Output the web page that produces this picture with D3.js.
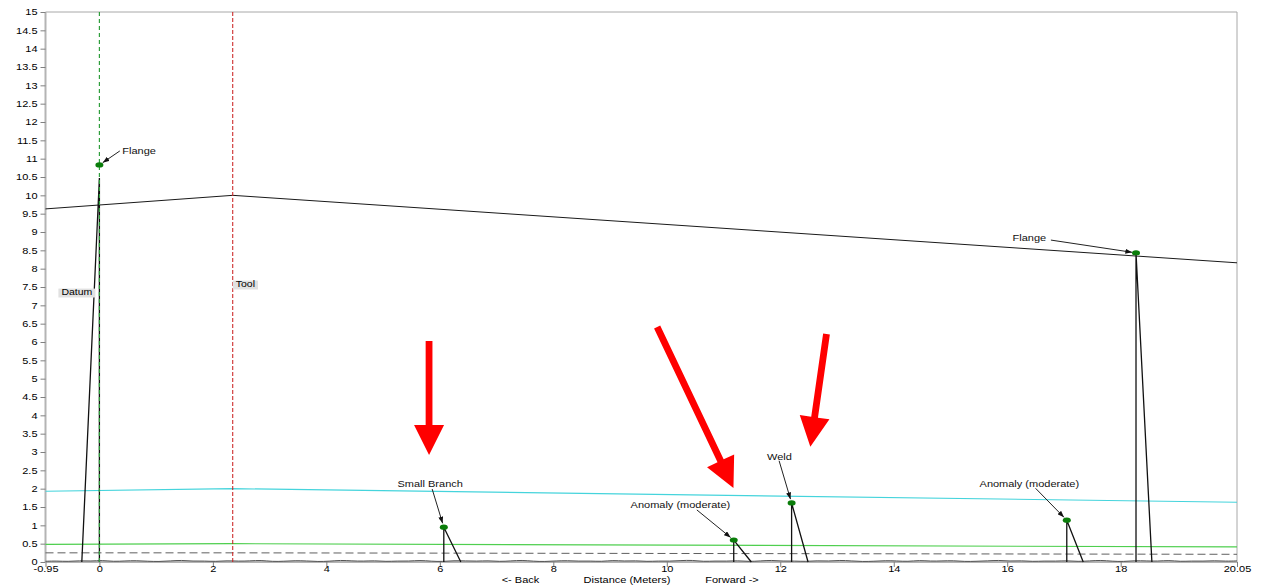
<!DOCTYPE html>
<html>
<head>
<meta charset="utf-8">
<script src="https://cdn.jsdelivr.net/npm/d3@7"></script>
<style>
  html, body { margin: 0; padding: 0; background: #ffffff; }
  svg { display: block; font-family: "Liberation Sans", Arial, sans-serif; }
</style>
</head>
<body>
<svg id="chart" width="1262" height="586"></svg>
<script>
// ---- Axis ticks ----
const xTickValues = [-0.95, 0, 2, 4, 6, 8, 10, 12, 14, 16, 18, 20.05];
const xTickLabels = ["-0.95", "0", "2", "4", "6", "8", "10", "12", "14", "16", "18", "20.05"];
const yTickValues = [0, 0.5, 1, 1.5, 2, 2.5, 3, 3.5, 4, 4.5, 5, 5.5, 6, 6.5, 7, 7.5,
                     8, 8.5, 9, 9.5, 10, 10.5, 11, 11.5, 12, 12.5, 13, 13.5, 14, 14.5, 15];

// ---- Threshold curves (breakpoints in metres) ----
const curveX      = [-0.95, 2.35, 20.05];
const dacCurve    = [9.63, 10.0, 8.16];
const callCurve   = [1.93, 2.0, 1.63];
const minorCurve  = [0.48, 0.5, 0.41];
const noiseFloor  = [0.25, 0.25, 0.21];

// ---- Reference markers ----
const datumPos = 0;
const toolPos = 2.35;

// ---- Detected features ----
const featureNames = ["Flange", "Small Branch", "Anomaly (moderate)", "Weld", "Anomaly (moderate)", "Flange"];
const featurePos   = [0, 6.07, 11.18, 12.2, 17.05, 18.27];
const featureAmp   = [10.83, 0.95, 0.6, 1.61, 1.14, 8.43];
const echoPeak     = [10.47, 0.95, 0.6, 1.61, 1.14, 8.43];
const echoFoot     = [-0.31, 6.37, 11.49, 12.49, 17.34, 18.55];

// label centre / baseline and leader start, in metres and signal units
const labelX  = [0.70, 5.83, 10.24, 11.985, 16.39, 16.39];
const labelY  = [11.13, 2.05, 1.47, 2.78, 2.05, 8.75];
const leaderX = [0.36, 5.865, 10.53, 11.98, 16.50, 16.77];
const leaderY = [11.21, 1.99, 1.42, 2.76, 2.01, 8.78];

// ---- Highlight arrows (tail -> tip) ----
const highlightTailX = [5.81, 9.83, 12.815];
const highlightTailY = [6.03, 6.41, 6.22];
const highlightTipX  = [5.81, 11.175, 12.53];
const highlightTipY  = [2.92, 2.02, 3.14];

// ---- Baseline noise of the trace ----
const noiseValues = [0.02,0.03,0.01,0.04,0.02,0.05,0.01,0.03,0.04,0.02,0.01,0.03,0.05,0.02,0.03,
  0.01,0.04,0.02,0.03,0.05,0.01,0.02,0.04,0.03,0.01,0.02,0.05,0.03,0.02,0.04,
  0.01,0.03,0.02,0.05,0.02,0.01,0.04,0.03,0.02,0.04,0.01,0.03,0.05,0.02,0.01,
  0.03,0.04,0.02,0.03,0.01,0.05,0.02,0.04,0.01,0.03,0.02,0.04,0.05,0.01,0.03,
  0.02,0.04,0.01,0.03,0.05,0.02,0.03,0.01,0.04,0.02,0.05,0.03,0.01,0.02,0.04,
  0.03,0.01,0.05,0.02,0.03,0.04,0.01,0.02,0.03,0.05,0.02,0.04,0.01,0.03,0.02,
  0.04,0.01,0.03,0.05,0.02,0.01,0.04,0.03,0.02,0.05,0.01,0.03,0.02,0.04,0.02,0.03];

// ================= drawing =================
const svg = d3.select("#chart");
const x = d3.scaleLinear().domain([-0.95, 20.05]).range([45.5, 1237]);
const y = d3.scaleLinear().domain([0, 15]).range([562, 12]);
const fontSize = 11;
const squash = 0.8;   // the instrument font is short and wide

// squeeze a text element vertically about its own anchor point
function squish(sel) {
  sel.each(function () {
    const t = d3.select(this);
    const px = +t.attr("x") || 0, py = +t.attr("y") || 0;
    t.attr("transform", `translate(${px},${py}) scale(1,${squash}) translate(${-px},${-py})`);
  });
  return sel;
}

// frame
svg.append("line").attr("x1", x(-0.95)).attr("x2", x(20.05)).attr("y1", y(15)).attr("y2", y(15))
  .attr("stroke", "#a8a8a8").attr("stroke-width", 1);
svg.append("line").attr("x1", x(20.05)).attr("x2", x(20.05)).attr("y1", y(15)).attr("y2", y(0))
  .attr("stroke", "#a8a8a8").attr("stroke-width", 1);

// axes
const yAxis = d3.axisLeft(y).tickValues(yTickValues).tickSize(5).tickPadding(3)
  .tickFormat(d => String(d));
const gy = svg.append("g").attr("transform", `translate(${x(-0.95)},0)`).call(yAxis);
const xAxis = d3.axisBottom(x).tickValues(xTickValues).tickSize(5).tickPadding(2)
  .tickFormat((d, i) => xTickLabels[i]);
const gx = svg.append("g").attr("transform", `translate(0,${y(0)})`).call(xAxis);
[gx, gy].forEach(g => {
  g.select(".domain").attr("stroke", "#b4b4b4").attr("stroke-width", 2);
  g.selectAll(".tick line").attr("stroke", "#808080");
  g.selectAll(".tick text").attr("font-size", fontSize).attr("fill", "#000")
    .attr("font-family", "Liberation Sans, Arial, sans-serif");
});
gy.selectAll(".tick text").attr("transform", `scale(1,${squash})`);
gx.selectAll(".tick text").attr("y", 5).attr("transform", `scale(1,${squash})`);
gy.select(".domain").attr("d", `M0,${y(15)}V${y(0)}`);
gx.select(".domain").attr("d", `M${x(-0.95)},0H${x(20.05)}`);

// axis captions
const captions = [["<- Back", 520.5], ["Distance (Meters)", 627], ["Forward ->", 732]];
squish(svg.selectAll("text.caption").data(captions).enter().append("text")
  .attr("class", "caption").attr("x", d => d[1]).attr("y", 583)
  .attr("text-anchor", "middle").attr("font-size", fontSize).text(d => d[0]));

// threshold curves
const curveLine = vals => d3.line().x((d, i) => x(curveX[i])).y(d => y(d))(vals);
svg.append("path").attr("d", curveLine(noiseFloor)).attr("fill", "none")
  .attr("stroke", "#606060").attr("stroke-width", 1).attr("stroke-dasharray", "8,4");
svg.append("path").attr("d", curveLine(minorCurve)).attr("fill", "none")
  .attr("stroke", "#4fcf4f").attr("stroke-width", 1.2);
svg.append("path").attr("d", curveLine(callCurve)).attr("fill", "none")
  .attr("stroke", "#45d4dc").attr("stroke-width", 1.2);
svg.append("path").attr("d", curveLine(dacCurve)).attr("fill", "none")
  .attr("stroke", "#1a1a1a").attr("stroke-width", 1);

// baseline noise
const noiseStep = (20.05 - (-0.95)) / (noiseValues.length - 1);
svg.append("path")
  .attr("d", d3.line().x((d, i) => x(-0.95 + i * noiseStep)).y(d => y(d)).curve(d3.curveBasis)(noiseValues))
  .attr("fill", "none").attr("stroke", "#555").attr("stroke-width", 1);

// echo spikes: vertical edge at the feature, sloped edge to the foot
featurePos.forEach((p, i) => {
  const pts = [[p, 0], [p, echoPeak[i]], [echoFoot[i], 0]];
  svg.append("path").attr("d", d3.line().x(d => x(d[0])).y(d => y(d[1]))(pts))
    .attr("fill", "none").attr("stroke", "#111").attr("stroke-width", 1.3);
});

// datum and tool markers
svg.append("line").attr("x1", x(datumPos)).attr("x2", x(datumPos)).attr("y1", y(15)).attr("y2", y(0))
  .attr("stroke", "#2f9e3c").attr("stroke-width", 1.2).attr("stroke-dasharray", "4,3");
svg.append("line").attr("x1", x(toolPos)).attr("x2", x(toolPos)).attr("y1", y(15)).attr("y2", y(0))
  .attr("stroke", "#c81818").attr("stroke-width", 1).attr("stroke-dasharray", "4,2");

function tag(text, px, baseY) {
  const t = svg.append("text").attr("x", px).attr("y", baseY).attr("font-size", 10.5).text(text);
  squish(t);
  const bb = t.node().getBBox();
  const h = (bb.height - 1) * squash;
  svg.insert("rect", () => t.node()).attr("x", bb.x - 3).attr("y", baseY - h + 2.5)
    .attr("width", bb.width + 6).attr("height", h).attr("fill", "#e1e1e1");
}
tag("Datum", x(datumPos) - 38, 295);
tag("Tool", x(toolPos) + 3, 287);

// feature labels with leaders
svg.append("defs").append("marker").attr("id", "lead").attr("viewBox", "0 -3 8 6")
  .attr("refX", 8).attr("refY", 0).attr("markerWidth", 7).attr("markerHeight", 5)
  .attr("markerUnits", "userSpaceOnUse").attr("orient", "auto")
  .append("path").attr("d", "M0,-3L8,0L0,3Z").attr("fill", "#111");

featureNames.forEach((name, i) => {
  squish(svg.append("text").attr("x", x(labelX[i])).attr("y", y(labelY[i]))
    .attr("text-anchor", "middle").attr("font-size", fontSize).attr("fill", "#111").text(name));
  const x0 = x(leaderX[i]), y0 = y(leaderY[i]);
  const x1 = x(featurePos[i]), y1 = y(featureAmp[i]);
  const len = Math.hypot(x1 - x0, y1 - y0);
  const k = (len - 4) / len;
  svg.append("line").attr("x1", x0).attr("y1", y0)
    .attr("x2", x0 + (x1 - x0) * k).attr("y2", y0 + (y1 - y0) * k)
    .attr("stroke", "#222").attr("stroke-width", 1).attr("marker-end", "url(#lead)");
});

// feature markers
svg.selectAll("ellipse.feat").data(featurePos).enter().append("ellipse")
  .attr("class", "feat").attr("cx", d => x(d)).attr("cy", (d, i) => y(featureAmp[i]))
  .attr("rx", 4).attr("ry", 2.6).attr("fill", "#0a7d0a");

// highlight arrows
highlightTailX.forEach((tx, i) => {
  const ax = x(tx), ay = y(highlightTailY[i]);
  const bx = x(highlightTipX[i]), by = y(highlightTipY[i]);
  const len = Math.hypot(bx - ax, by - ay);
  const ux = (bx - ax) / len, uy = (by - ay) / len;
  const nx = -uy, ny = ux;
  const headLen = 30, headHalf = 15, shaftHalf = 3.4;
  const hx = bx - ux * headLen, hy = by - uy * headLen;
  const pts = [
    [ax + nx * shaftHalf, ay + ny * shaftHalf],
    [hx + nx * shaftHalf, hy + ny * shaftHalf],
    [hx + nx * headHalf, hy + ny * headHalf],
    [bx, by],
    [hx - nx * headHalf, hy - ny * headHalf],
    [hx - nx * shaftHalf, hy - ny * shaftHalf],
    [ax - nx * shaftHalf, ay - ny * shaftHalf]
  ];
  svg.append("path").attr("d", "M" + pts.map(p => p.join(",")).join("L") + "Z").attr("fill", "#ff0000");
});
</script>
</body>
</html>
